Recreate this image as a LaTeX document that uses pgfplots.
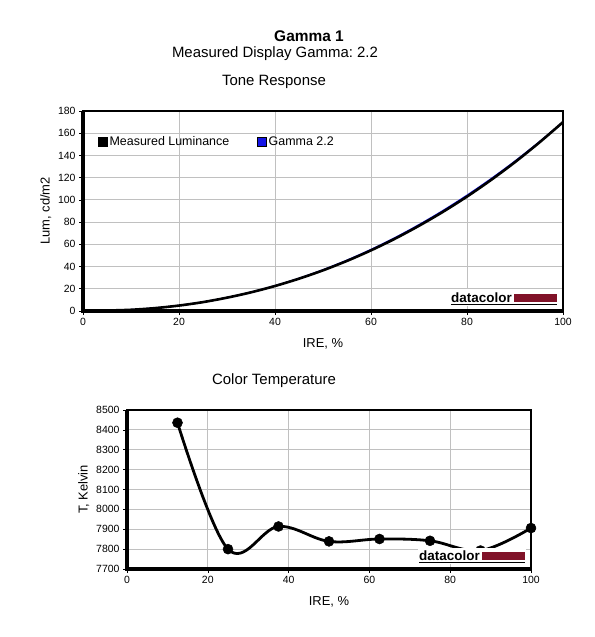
\documentclass[border=0pt]{standalone}
\usepackage{pgfplots}
\pgfplotsset{compat=1.18}
\usepackage{fontspec}
\setmainfont{Liberation Sans}
\definecolor{gridgray}{RGB}{192,192,192}
\definecolor{dcred}{RGB}{128,18,40}
\definecolor{gblue}{RGB}{20,20,230}

\pgfplotstableread{
x y
0 0.3
5 0.45
10 1.1
15 2.6
20 4.9
25 8.0
30 12.0
35 16.8
40 22.5
45 29.1
50 36.6
55 45.1
60 54.6
65 65.1
70 76.7
75 89.3
80 103.0
85 117.9
90 134.0
95 151.4
100 170.0
}\measured

\pgfplotstableread{
x y
0 0
5 0.23
10 1.07
15 2.62
20 4.93
25 8.05
30 12.03
35 16.88
40 22.65
45 29.34
50 37.0
55 45.63
60 55.25
65 65.89
70 77.57
75 90.29
80 104.06
85 118.9
90 134.8
95 151.9
100 170.0
}\gammaref

\pgfplotstableread{
x y
12.5 8436
25 7800
37.5 7914
50 7839
62.5 7851
75 7842
87.5 7793
100 7906
}\colortemp

\pgfplotsset{
  every axis/.append style={
    scale only axis,
    axis line style={black, line width=1.2bp},
    grid=major,
    major grid style={gridgray, line width=0.8bp},
    tick align=outside,
    tick style={black, line width=0.6bp},
    major tick length=4bp,
    tick label style={font=\fontsize{10.5}{12}\selectfont, text=black},
    /pgf/number format/assume math mode=true,
    /pgf/number format/1000 sep={},
    xtick pos=bottom, ytick pos=left,
    clip=false,
  }
}

\begin{document}
\frenchspacing
\begin{tikzpicture}
\useasboundingbox (0,0) rectangle (595bp,-637bp);

\node[font=\bfseries\fontsize{15.5}{18}\selectfont] at (309bp,-36bp) {Gamma 1};
\node[font=\fontsize{15}{18}\selectfont] at (275bp,-54bp) {Measured Display Gamma: 2.2};
\node[font=\fontsize{15}{18}\selectfont] at (274bp,-82bp) {Tone Response};

% ---------- Tone response ----------
\begin{axis}[
  at={(83bp,-311bp)}, anchor=south west,
  width=480bp, height=200bp,
  xmin=0, xmax=100, ymin=0, ymax=180,
  xtick={0,20,...,100}, ytick={0,20,...,180},
  xlabel={IRE, \%}, ylabel={Lum, cd/m2},
  xlabel style={font=\fontsize{13}{15}\selectfont, yshift=-6bp},
  ylabel style={font=\fontsize{13}{15}\selectfont},
  legend style={draw=none, fill=none, at={(rel axis cs:0.025,0.845)}, anchor=west,
    font=\fontsize{12.5}{14}\selectfont, legend columns=2,
    /tikz/every even column/.append style={column sep=26bp}},
  legend cell align=left,
  legend image code/.code={\filldraw[#1, draw=black, line width=0.4bp] (0bp,-4.5bp) rectangle (9bp,4.5bp);},
]
\addlegendimage{fill=black}
\addlegendentry{Measured Luminance}
\addlegendimage{fill=gblue}
\addlegendentry{Gamma 2.2}
\addplot[gblue, line width=1.6bp, smooth, forget plot] table[x=x,y=y] {\gammaref};
\addplot[black, line width=2.6bp, smooth, forget plot] table[x=x,y=y] {\measured};
\draw[black, line width=3.5bp] (rel axis cs:0,1) -- (rel axis cs:0,0) -- (rel axis cs:1,0);
\draw[black, line width=1.8bp] (rel axis cs:1,0) -- (rel axis cs:1,1);
\end{axis}

% datacolor logo top
\fill[white] (450bp,-289bp) rectangle (558bp,-306bp);
\node[anchor=base west, inner sep=0pt, font=\bfseries\fontsize{13.5}{15}\selectfont] at (451bp,-302bp) {datacolor};
\fill[dcred] (514bp,-294bp) rectangle (557bp,-302bp);
\draw[black, line width=1bp] (451bp,-304bp) -- (557bp,-304bp);

\node[font=\fontsize{15}{18}\selectfont] at (274bp,-381bp) {Color Temperature};

% ---------- Color temperature ----------
\begin{axis}[
  at={(127bp,-569bp)}, anchor=south west,
  width=404bp, height=159bp,
  xmin=0, xmax=100, ymin=7700, ymax=8500,
  xtick={0,20,...,100}, ytick={7700,7800,...,8500},
  xlabel={IRE, \%}, ylabel={T, Kelvin},
  xlabel style={font=\fontsize{13}{15}\selectfont, yshift=-6bp},
  ylabel style={font=\fontsize{13}{15}\selectfont},
]
\addplot[black, line width=2.8bp, smooth, tension=0.6, mark=*, mark size=5bp,
  mark options={fill=black, line width=0.5bp}] table[x=x,y=y] {\colortemp};
\draw[black, line width=3.5bp] (rel axis cs:0,1) -- (rel axis cs:0,0) -- (rel axis cs:1,0);
\draw[black, line width=1.8bp] (rel axis cs:1,0) -- (rel axis cs:1,1);
\end{axis}

% datacolor logo bottom
\fill[white] (418bp,-548bp) rectangle (526bp,-564bp);
\node[anchor=base west, inner sep=0pt, font=\bfseries\fontsize{13.5}{15}\selectfont] at (419bp,-560bp) {datacolor};
\fill[dcred] (482bp,-552bp) rectangle (525bp,-560bp);
\draw[black, line width=1bp] (419bp,-562bp) -- (525bp,-562bp);
\end{tikzpicture}
\end{document}
